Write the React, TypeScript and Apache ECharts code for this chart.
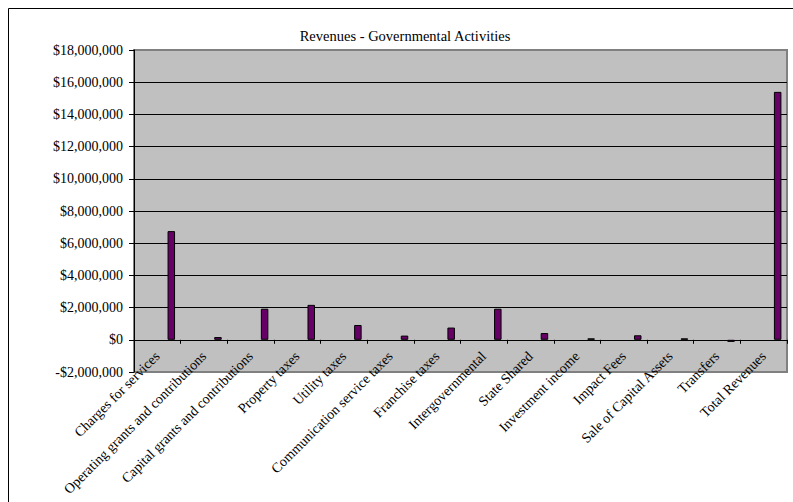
import React, { useEffect, useRef } from "react";
import * as echarts from "echarts";

const categories = [
  "Charges for services",
  "Operating grants and contributions",
  "Capital grants and contributions",
  "Property taxes",
  "Utility taxes",
  "Communication service taxes",
  "Franchise taxes",
  "Intergovernmental",
  "State Shared",
  "Investment income",
  "Impact Fees",
  "Sale of Capital Assets",
  "Transfers",
  "Total Revenues",
];

const revenues = [
  6750000, 170000, 1930000, 2170000, 920000, 260000, 760000, 1930000, 420000,
  90000, 280000, 90000, -130000, 15400000,
];

const yMin = -2000000;
const yMax = 18000000;
const yStep = 2000000;

const FONT = '"Liberation Serif", "Times New Roman", serif';

function fmtMoney(v: number): string {
  const abs = Math.abs(v).toLocaleString("en-US");
  return (v < 0 ? "-$" : "$") + abs;
}

export default function App() {
  const ref = useRef<HTMLDivElement>(null);

  useEffect(() => {
    if (!ref.current) return;
    const chart = echarts.init(ref.current, undefined, { renderer: "svg" });
    const splitColors: string[] = [];
    const n = (yMax - yMin) / yStep + 1;
    for (let i = 0; i < n; i++) {
      splitColors.push(i === 0 || i === n - 1 ? "rgba(0,0,0,0)" : "#000000");
    }
    chart.setOption({
      animation: false,
      backgroundColor: "#ffffff",
      title: {
        text: "Revenues - Governmental Activities",
        left: 400,
        top: 23,
        textAlign: "center",
        textStyle: {
          fontFamily: FONT,
          fontSize: 14.5,
          fontWeight: "normal",
          color: "#000",
        },
      },
      graphic: [
        {
          type: "rect",
          shape: { x: 8.5, y: 8.5, width: 900, height: 700 },
          style: { fill: "none", stroke: "#000", lineWidth: 1 },
          silent: true,
        },
      ],
      grid: {
        left: 134,
        right: 6,
        top: 50,
        bottom: 130,
        containLabel: false,
        outerBoundsMode: "none",
        show: true,
        backgroundColor: "#C0C0C0",
        borderColor: "#808080",
        borderWidth: 2,
      },
      xAxis: {
        type: "category",
        data: categories,
        boundaryGap: true,
        axisLine: { show: true, onZero: true, lineStyle: { color: "#000", width: 1 } },
        axisTick: { show: true, length: 4, lineStyle: { color: "#000" } },
        axisLabel: {
          interval: 0,
          rotate: 45,
          margin: -18,
          fontFamily: FONT,
          fontSize: 14,
          color: "#000",
        },
        splitLine: { show: false },
      },
      yAxis: {
        type: "value",
        min: yMin,
        max: yMax,
        interval: yStep,
        axisLine: { show: true, lineStyle: { color: "#000", width: 1 } },
        axisTick: { show: true, length: 5, lineStyle: { color: "#000" } },
        axisLabel: {
          margin: 11,
          fontFamily: FONT,
          fontSize: 14,
          color: "#000",
          formatter: (v: number) => fmtMoney(v),
        },
        splitLine: { show: true, lineStyle: { color: splitColors, width: 1 } },
      },
      series: [
        {
          name: "spacer",
          type: "bar",
          data: categories.map(() => null),
          barWidth: 7.5,
          barGap: "273%",
          silent: true,
        },
        {
          name: "Revenues",
          type: "bar",
          data: revenues,
          barWidth: 7.5,
          barGap: "273%",
          itemStyle: { color: "#660066", borderColor: "#000", borderWidth: 1 },
        },
      ],
    });
    return () => chart.dispose();
  }, []);

  return (
    <div
      ref={ref}
      style={{ position: "fixed", left: 0, top: 0, width: 793, height: 502 }}
    />
  );
}
